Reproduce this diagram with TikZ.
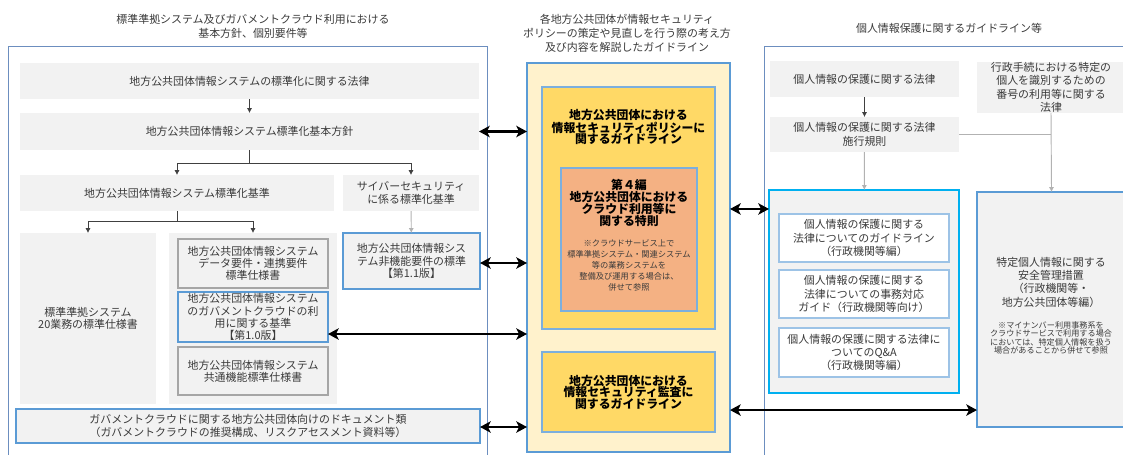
\documentclass[tikz,border=0pt]{standalone}
\usepackage{fontspec}
\setmainfont{Noto Sans CJK JP}
\usepackage{tikz}
\usetikzlibrary{arrows.meta,positioning,calc}
\definecolor{boxgray}{HTML}{F2F2F2}
\definecolor{edgegray}{HTML}{A6A6A6}
\definecolor{txtgray}{HTML}{3A3A3A}
\definecolor{frameblue}{HTML}{6C8EBF}
\definecolor{boxblue}{HTML}{5B9BD5}
\definecolor{lightblue}{HTML}{9DC3E6}
\definecolor{cyanline}{HTML}{00B0F0}
\definecolor{cream}{HTML}{FFF2CC}
\definecolor{gold}{HTML}{FFD966}
\definecolor{salmon}{HTML}{F4B183}
\tikzset{
    every node/.style={font=\fontsize{8.2}{9.2}\selectfont, align=center, text=txtgray, inner sep=0pt, outer sep=0pt},
    wh/.style 2 args={minimum width=#1*0.75pt, minimum height=#2*0.75pt},
    frame/.style={draw=frameblue, line width=0.7pt},
    title/.style={font=\fontsize{8.2}{10.4}\selectfont},
    plainbox/.style={fill=boxgray},
    greybox/.style={fill=boxgray, draw=edgegray, line width=0.9pt},
    bluebox/.style={fill=boxgray, draw=boxblue, line width=1.6pt},
    rightfont/.style={font=\fontsize{8.2}{10}\selectfont},
    whitebox/.style={fill=white, draw=lightblue, line width=0.9pt, rightfont},
    boldtxt/.style={font=\fontsize{8.9}{8.6}\selectfont\bfseries, text=black},
    notetxt/.style={font=\fontsize{6.2}{8.2}\selectfont, text=txtgray},
    conn/.style={draw=black!75, line width=0.6pt},
    connlt/.style={draw=black!30, line width=0.7pt},
    tip/.style={-{Latex[length=3.6pt,width=3.8pt]}},
    big/.style={line width=2.1pt, {Stealth[length=8pt,width=8.5pt,inset=2pt]}-{Stealth[length=8pt,width=8.5pt,inset=2pt]}}
}
\begin{document}
\begin{tikzpicture}[x=0.75pt, y=-0.75pt]
    \useasboundingbox (0,0) rectangle (1123,454);

    % left column
    \draw[frame] (8,46) rectangle (487,470);
    \node[title] (ttlL) at (253,26) {標準準拠システム及びガバメントクラウド利用における\\基本方針、個別要件等};

    \node[plainbox, wh={459}{36}] (law) at (249.5,81) {地方公共団体情報システムの標準化に関する法律};
    \node[plainbox, wh={459}{37}] (policy) at (249.5,131.5) {地方公共団体情報システム標準化基本方針};
    \node[plainbox, wh={314}{36}] (std) at (177,193) {地方公共団体情報システム標準化基準};
    \node[plainbox, wh={136}{36}] (cyber) at (411,193) {サイバーセキュリティ\\に係る標準化基準};

    \node[plainbox, wh={136}{171}] (spec20) at (88,318.5) {標準準拠システム\\20業務の標準仕様書};
    \node[plainbox, wh={168}{171}] (specbg) at (253,318.5) {};
    \node[greybox, wh={150}{49}] (data) at (253,263.5) {地方公共団体情報システム\\データ要件・連携要件\\標準仕様書};
    \node[bluebox, wh={150}{50}] (gcstd) at (253,317) {地方公共団体情報システム\\のガバメントクラウドの利\\用に関する基準\\【第1.0版】};
    \node[greybox, wh={150}{48}] (common) at (253,371) {地方公共団体情報システム\\共通機能標準仕様書};
    \node[bluebox, wh={137}{56}] (nonfunc) at (411.5,261) {地方公共団体情報シス\\テム非機能要件の標準\\【第1.1版】};
    \node[bluebox, wh={464}{34}] (docs) at (248,426) {ガバメントクラウドに関する地方公共団体向けのドキュメント類\\（ガバメントクラウドの推奨構成、リスクアセスメント資料等）};

    \draw[conn, tip] (law) -- (policy);
    \draw[conn] (policy.south) -- ++(0,13) coordinate (j1);
    \draw[conn, tip] (j1) -| (std.north);
    \draw[conn, tip] (j1) -| (cyber.north);
    \draw[conn] (std.south) -- ++(0,10) coordinate (j2);
    \draw[conn, tip] (j2) -| (spec20.north);
    \draw[conn, tip] (j2) -| (specbg.north);
    \draw[connlt, tip] (cyber) -- (nonfunc);

    % middle column
    \node[title] (ttlM) at (627,33) {各地方公共団体が情報セキュリティ\\ポリシーの策定や見直しを行う際の考え方\\及び内容を解説したガイドライン};
    \node[fill=cream, draw=boxblue, line width=1.8pt, wh={203}{389}] (cream) at (628.5,257.5) {};
    \node[fill=gold, draw=boxblue!80, line width=1.4pt, wh={173}{242}] (isp) at (628.5,208) {};
    \node[boldtxt] (isptxt) at (628.5,127) {地方公共団体における\\情報セキュリティポリシーに\\関するガイドライン};
    \node[fill=salmon, draw=boxblue!80, line width=1.4pt, wh={136}{143}] (cloud) at (629,239.5) {};
    \node[boldtxt] (cloudtxt) at (629,203) {第４編\\地方公共団体における\\クラウド利用等に\\関する特則};
    \node[notetxt] (cloudnote) at (629,265.5) {※クラウドサービス上で\\標準準拠システム・関連システム\\等の業務システムを\\整備及び運用する場合は、\\併せて参照};
    \node[fill=gold, draw=boxblue!80, line width=1.4pt, boldtxt, wh={173}{80}] (audit) at (628.5,392) {地方公共団体における\\情報セキュリティ監査に\\関するガイドライン};

    % right column
    \draw[frame] (764,46) rectangle (1135,470);
    \node[title] (ttlR) at (949,28) {個人情報保護に関するガイドライン等};

    \node[plainbox, rightfont, wh={189}{36}] (pilaw) at (864.5,79) {個人情報の保護に関する法律};
    \node[plainbox, rightfont, wh={148}{51}] (mynum) at (1051,87.5) {行政手続における特定の\\個人を識別するための\\番号の利用等に関する\\法律};
    \node[plainbox, rightfont, wh={189}{35}] (rule) at (864.5,134.5) {個人情報の保護に関する法律\\施行規則};

    \node[fill=boxgray, draw=cyanline, line width=2pt, wh={190}{203}] (pigroup) at (864,291.5) {};
    \node[whitebox, wh={170}{48}] (gl1) at (864,238) {個人情報の保護に関する\\法律についてのガイドライン\\（行政機関等編）};
    \node[whitebox, wh={170}{48}] (gl2) at (864,294) {個人情報の保護に関する\\法律についての事務対応\\ガイド（行政機関等向け）};
    \node[whitebox, wh={170}{49}] (gl3) at (864,352.5) {個人情報の保護に関する法律に\\ついてのQ\&A\\（行政機関等編）};

    \node[bluebox, wh={149}{235}] (safe) at (1051.5,309.5) {};
    \node[rightfont] (safetxt) at (1051,282) {特定個人情報に関する\\安全管理措置\\（行政機関等・\\地方公共団体等編）};
    \node[notetxt, font=\fontsize{6.1}{6.4}\selectfont] (safenote) at (1051,338) {※マイナンバー利用事務系を\\クラウドサービスで利用する場合\\においては、特定個人情報を扱う\\場合があることから併せて参照};

    \draw[conn, tip] (pilaw) -- (rule);
    \draw[connlt, tip] (rule) -- (pigroup);
    \draw[connlt] (rule.east) -- (rule.east -| mynum.south);
    \draw[connlt, tip] (mynum.south) -- (safe.north);

    % links to the guidelines
    \draw[big] (policy.east) -- (policy.east -| cream.west);
    \draw[big] ([yshift=-1.5pt]nonfunc.east) -- ([yshift=-1.5pt]nonfunc.east -| cream.west);
    \draw[big] ([yshift=-12.75pt]gcstd.east) -- ([yshift=-12.75pt]gcstd.east -| cream.west);
    \draw[big] ([yshift=-0.75pt]docs.east) -- ([yshift=-0.75pt]docs.east -| cream.west);
    \draw[big] ([yshift=61.9pt]pigroup.west -| cream.east) -- ([yshift=61.9pt]pigroup.west);
    \draw[big] ([yshift=-75.4pt]safe.west -| cream.east) -- ([yshift=-75.4pt]safe.west);
\end{tikzpicture}
\end{document}
